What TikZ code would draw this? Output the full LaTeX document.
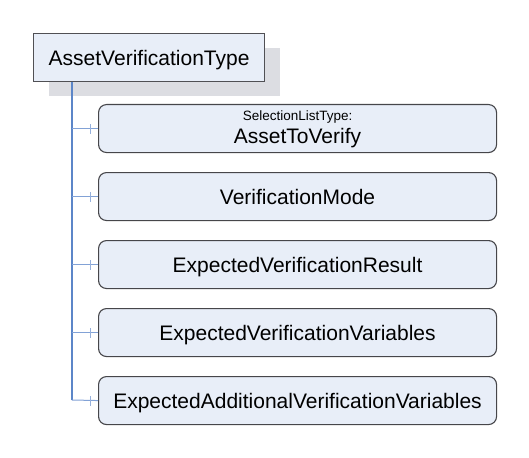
\documentclass[tikz,border=0pt]{standalone}
\usepackage{fontspec}
\setmainfont{Liberation Sans}
\definecolor{boxbg}{RGB}{232,238,248}
\definecolor{topborder}{RGB}{80,80,84}
\definecolor{childborder}{RGB}{70,70,74}
\definecolor{trunkblue}{RGB}{92,134,200}
\definecolor{branchblue}{RGB}{130,162,214}
\definecolor{tickblue}{RGB}{150,176,220}
\definecolor{shadowgrey}{RGB}{220,221,226}
\begin{document}
\begin{tikzpicture}[x=1pt,y=1pt,
  boxfill/.style={fill=boxbg},
  bigtext/.style={font=\fontsize{21}{24}\selectfont,text height=15pt,text depth=0pt},
  topbox/.style={boxfill,draw=topborder,line width=1.2pt,minimum width=231pt,minimum height=48pt,inner sep=0pt,bigtext},
  childbox/.style={boxfill,draw=childborder,line width=1.1pt,rounded corners=8pt,minimum width=398pt,minimum height=48pt,inner sep=0pt,bigtext},
  trunk/.style={draw=trunkblue,line width=2pt},
  branch/.style={draw=branchblue,line width=1pt},
  tick/.style={draw=tickblue,line width=1pt}
]
\useasboundingbox (0,0) rectangle (529,-457);
\fill[shadowgrey] (49,-48) rectangle (280,-96);
\node[topbox,anchor=north west] (top) at (33,-33) {AssetVerificationType};
\node[childbox,anchor=north west] (c1) at (98,-104) {};
\node[anchor=base,inner sep=0pt,font=\fontsize{13.5}{15}\selectfont] (c1type) at ([yshift=-16.7pt]c1.north) {SelectionListType:};
\node[anchor=base,inner sep=0pt,font=\fontsize{21}{24}\selectfont] (c1name) at ([yshift=-39.3pt]c1.north) {AssetToVerify};
\node[childbox,anchor=north west] (c2) at (98,-172) {VerificationMode};
\node[childbox,anchor=north west] (c3) at (98,-240) {ExpectedVerificationResult};
\node[childbox,anchor=north west] (c4) at (98,-308) {ExpectedVerificationVariables};
\node[childbox,anchor=north west] (c5) at (98,-376) {ExpectedAdditionalVerificationVariables};
\coordinate (t0) at (72,-81.6);
\coordinate (tend) at (72,-400);
\path[trunk] (t0) -- (tend);
\foreach \c in {c1,c2,c3,c4} {
  \coordinate (j\c) at (t0 |- \c.west);
  \path[branch] (j\c) -- (\c.west);
  \path[tick] ([yshift=-5pt]90,0 |- \c.west) -- ([yshift=5pt]90,0 |- \c.west);
}
\path[branch] (tend) -- (c5.west);
\path[tick] ([yshift=-5pt]90,0 |- c5.west) -- ([yshift=5pt]90,0 |- c5.west);
\end{tikzpicture}
\end{document}
